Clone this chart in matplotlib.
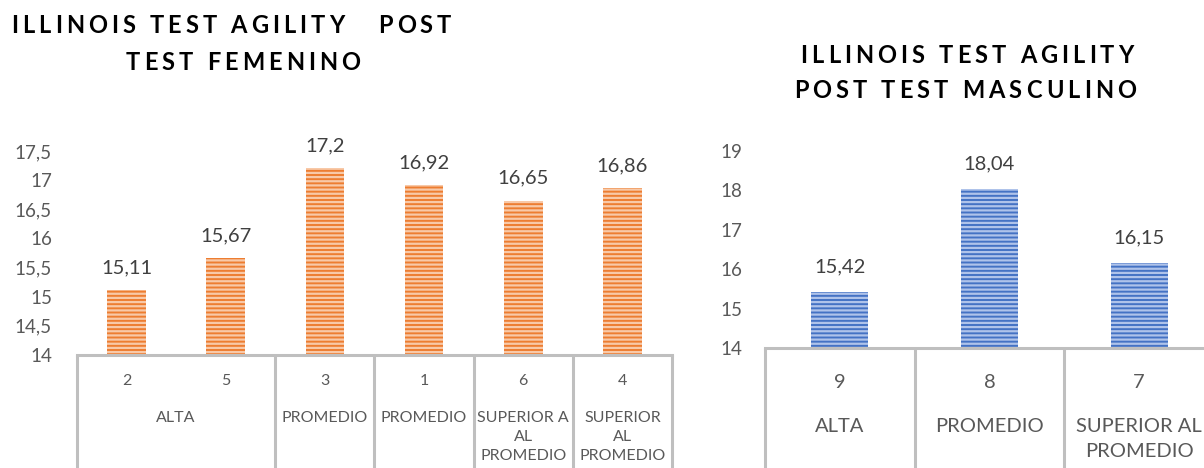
import matplotlib
matplotlib.use("Agg")
import matplotlib.pyplot as plt
import matplotlib.transforms as mtransforms
from matplotlib.font_manager import FontProperties

# ---------------- data ----------------
fem_title = ["ILLINOIS TEST AGILITY   POST", "TEST FEMENINO"]
fem_ids = ["2", "5", "3", "1", "6", "4"]
fem_values = [15.11, 15.67, 17.2, 16.92, 16.65, 16.86]
fem_group_labels = ["ALTA", "PROMEDIO", "PROMEDIO", "SUPERIOR A\nAL\nPROMEDIO", "SUPERIOR\nAL\nPROMEDIO"]
fem_group_sizes = [2, 1, 1, 1, 1]
fem_yticks = [14, 14.5, 15, 15.5, 16, 16.5, 17, 17.5]

masc_title = ["ILLINOIS TEST AGILITY", "POST TEST MASCULINO"]
masc_ids = ["9", "8", "7"]
masc_values = [15.42, 18.04, 16.15]
masc_group_labels = ["ALTA", "PROMEDIO", "SUPERIOR AL\nPROMEDIO"]
masc_group_sizes = [1, 1, 1]
masc_yticks = [14, 15, 16, 17, 18, 19]

# ---------------- style ----------------
W, H = 1204, 468
FONT = ["Lato", "DejaVu Sans"]
plt.rcParams["font.family"] = FONT
plt.rcParams["hatch.linewidth"] = 1.6
GRID = "#BFBFBF"
TXT = "#595959"
LBL = "#404040"

fig = plt.figure(figsize=(W / 100, H / 100), dpi=100)
fig.patch.set_facecolor("white")
renderer = fig.canvas.get_renderer()


def ax_rect(x0, x1, ytop, ybot):
    return [x0 / W, 1 - ybot / H, (x1 - x0) / W, (ybot - ytop) / H]


def fmt(v):
    return f"{v:g}".replace(".", ",")


def draw_chart(rect, ids, values, groups, sizes, yticks, face, stripe, width,
               id_y, grp_y, id_fs, grp_fs, grp_ls, ylab_pad, label_off, ybot_px,
               tick_fs=13.5, lab_fs=14.5):
    ax = fig.add_axes(rect)
    x = list(range(len(values)))
    lo = yticks[0]
    ax.bar(x, [v - lo for v in values], bottom=lo, width=width,
           color=face, edgecolor=stripe, hatch="----", linewidth=0)
    ax.set_xlim(-0.5, len(values) - 0.5)
    ax.set_ylim(yticks[0], yticks[-1])
    ax.set_yticks(yticks)
    ax.set_yticklabels([fmt(t) for t in yticks])
    ax.tick_params(axis="y", length=0, pad=ylab_pad, labelsize=tick_fs, labelcolor=TXT)
    ax.set_xticks([])
    for s in ["top", "right", "left"]:
        ax.spines[s].set_visible(False)
    ax.spines["bottom"].set_color(GRID)
    ax.spines["bottom"].set_linewidth(2.2)
    for xi, v in zip(x, values):
        ax.annotate(fmt(v), (xi, v), xytext=(0, label_off), textcoords="offset points",
                    ha="center", va="center", fontsize=lab_fs, color=LBL,
                    annotation_clip=False)
    # category table
    ax_h_px = rect[3] * H
    ax_bot_px = (1 - rect[1]) * H

    def ay(px):
        return (ax_bot_px - px) / ax_h_px

    tr = mtransforms.blended_transform_factory(ax.transData, ax.transAxes)
    for xi, t in zip(x, ids):
        ax.text(xi, ay(id_y), t, transform=tr, ha="center", va="center",
                fontsize=id_fs, color=TXT, clip_on=False)
    bounds = [-0.5]
    start = 0
    for g, n in zip(groups, sizes):
        c = start + (n - 1) / 2
        ax.text(c, ay(grp_y), g, transform=tr, ha="center", va="top",
                fontsize=grp_fs, color=TXT, linespacing=grp_ls, clip_on=False)
        start += n
        bounds.append(start - 0.5)
    for b in bounds:
        ax.plot([b, b], [0, ay(ybot_px)], transform=tr, color=GRID, lw=2.2,
                clip_on=False, solid_capstyle="butt")
    return ax


def tracked_line(xc, ybase, s, size, track):
    """Draw one bold, letter-spaced title line centred at xc (px), baseline ybase (px)."""
    fp = FontProperties(family=["Lato", "DejaVu Sans"], weight="bold", size=size)
    wI = renderer.get_text_width_height_descent("I", fp, ismath=False)[0]
    pos = []
    for i in range(len(s)):
        if i == 0:
            pos.append(0.0)
        else:
            w = renderer.get_text_width_height_descent(s[:i] + "I", fp, ismath=False)[0] - wI
            pos.append(w + i * track)
    wlast = renderer.get_text_width_height_descent(s[-1], fp, ismath=False)[0]
    total = pos[-1] + wlast
    x0 = xc - total / 2
    for ch, p in zip(s, pos):
        if ch == " ":
            continue
        fig.text((x0 + p) / W, 1 - ybase / H, ch, fontproperties=fp,
                 ha="left", va="baseline", color="black")


# left chart (femenino)
draw_chart(ax_rect(77, 672, 151, 355), fem_ids, fem_values, fem_group_labels,
           fem_group_sizes, fem_yticks, "#ED7D31", "#F8C9A8", 0.39,
           id_y=381, grp_y=411, id_fs=11.5, grp_fs=11.5, grp_ls=1.45,
           ylab_pad=18, label_off=16, ybot_px=470)

# right chart (masculino) - extends past the figure edge
draw_chart(ax_rect(765, 1214, 151, 348), masc_ids, masc_values, masc_group_labels,
           masc_group_sizes, masc_yticks, "#4472C4", "#AFC3EA", 0.38,
           id_y=383, grp_y=418, id_fs=14.5, grp_fs=14.5, grp_ls=1.6,
           ylab_pad=16, label_off=18, ybot_px=470)

# titles
TS, TR = 17, 4.1
tracked_line(231, 33, fem_title[0], TS, TR)
tracked_line(243, 70, fem_title[1], TS, TR)
tracked_line(967, 63, masc_title[0], TS, TR)
tracked_line(965, 98, masc_title[1], TS, TR)

fig.savefig("out.png", dpi=100, facecolor="white")
